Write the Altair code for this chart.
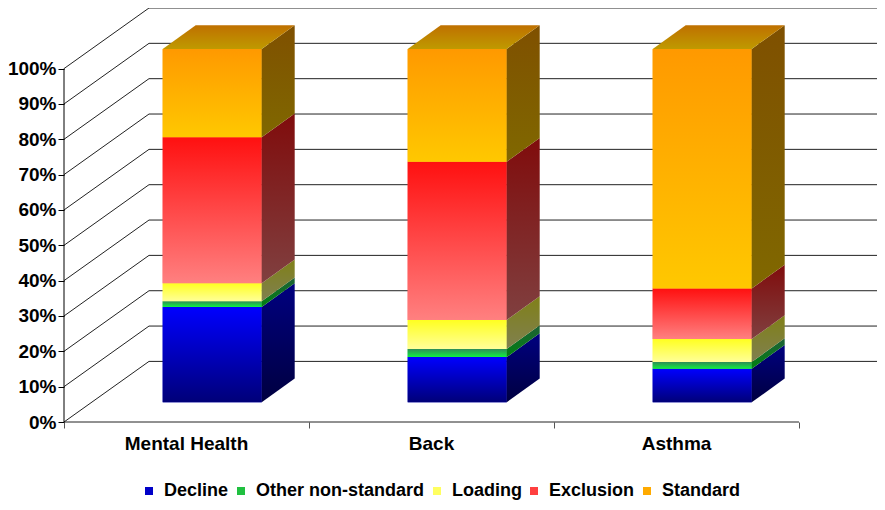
import altair as alt
import pandas as pd

# ---- data ----
CATEGORIES = ["Mental Health", "Back", "Asthma"]
SERIES = ["Decline", "Other non-standard", "Loading", "Exclusion", "Standard"]
DECLINE = [27.0, 12.8, 9.5]
OTHER = [1.6, 2.3, 1.9]
LOADING = [5.1, 8.2, 6.5]
EXCLUSION = [41.3, 44.8, 14.3]
STANDARD = [25.0, 31.9, 67.8]
Y_TICKS = [0, 10, 20, 30, 40, 50, 60, 70, 80, 90, 100]
CAT_TICKS = [0, 1, 2, 3]

VALUES = [DECLINE, OTHER, LOADING, EXCLUSION, STANDARD]

# ---- styling / geometry constants ----
FONT = "Liberation Sans"
W, H = 813, 414
PX_X = 245.0
PX_Y = 3.534
XMAX = W / PX_X
YMAX = H / PX_Y
WALL_DX = 85 / PX_X
WALL_DY = YMAX - 100
F_DX, F_DY = 25.7 / PX_X, 19.7 / PX_Y
B_DX, B_DY = 58.7 / PX_X, 43.4 / PX_Y
HALF = 49.5 / PX_X

FRONT_GRAD = {
    "Decline": ("#0000FF", "#000078"),
    "Other non-standard": ("#2E8B57", "#10F040"),
    "Loading": ("#FFFF20", "#FFFF99"),
    "Exclusion": ("#FF1010", "#FF8080"),
    "Standard": ("#FF9900", "#FFC800"),
}
SIDE_GRAD = {
    "Decline": ("#000080", "#000040"),
    "Other non-standard": ("#1E6038", "#008010"),
    "Loading": ("#808018", "#808050"),
    "Exclusion": ("#800C0C", "#804040"),
    "Standard": ("#7F5000", "#806800"),
}
TOP_GRAD = ("#BF7000", "#BF9A00")
LEGEND_COLORS = ["#0000C8", "#20C040", "#FFFF60", "#FF4040", "#FFAA00"]


def grad(c0, c1):
    return alt.LinearGradient(
        gradient="linear",
        stops=[alt.GradientStop(color=c0, offset=0), alt.GradientStop(color=c1, offset=1)],
        x1=0, x2=0, y1=0, y2=1,
    )


# ---- tables built from the arrays ----
front_rows, side_rows, top_rows = [], [], []
for i, cat in enumerate(CATEGORIES):
    cum = 0.0
    xl = i + 0.5 - HALF + F_DX
    xr = i + 0.5 + HALF + F_DX
    for s, vals in zip(SERIES, VALUES):
        c0, c1 = cum, cum + vals[i]
        cum = c1
        front_rows.append(dict(cat=cat, series=s, xl=xl, xr=xr, y0=c0 + F_DY, y1=c1 + F_DY))
        side_rows.append(dict(cat=cat, series=s, x=xr, lo=c0 + F_DY, hi=c1 + F_DY))
        side_rows.append(dict(cat=cat, series=s, x=xr + B_DX - F_DX, lo=c0 + B_DY, hi=c1 + B_DY))
    top_rows.append(dict(cat=cat, y=cum + F_DY, xa=xl, xb=xr))
    top_rows.append(dict(cat=cat, y=cum + B_DY, xa=xl + B_DX - F_DX, xb=xr + B_DX - F_DX))

front = pd.DataFrame(front_rows)
side = pd.DataFrame(side_rows)
top = pd.DataFrame(top_rows)

grid = pd.DataFrame({"v": Y_TICKS})
grid["vb"] = grid["v"] + WALL_DY
grid["x0"] = 0.0
grid["x1"] = WALL_DX
grid["xm"] = XMAX

axis_line = pd.DataFrame({"x": [0.0], "y0": [0.0], "y1": [100.0]})
floor_line = pd.DataFrame({"x0": [0.0], "x1": [float(len(CATEGORIES))], "y": [0.0]})
cat_labels = pd.DataFrame({"cat": CATEGORIES, "xc": [i + 0.5 for i in range(len(CATEGORIES))], "y": 0.0})

Xs = alt.Scale(domain=[0, XMAX], nice=False, zero=False)
Ys = alt.Scale(domain=[0, YMAX], nice=False, zero=False)

Y_AXIS = alt.Axis(values=Y_TICKS, labelExpr="datum.value + '%'", domain=False, grid=False,
                  tickSize=6, tickColor="black", labelFont=FONT, labelFontSize=19,
                  labelFontWeight="bold", labelColor="black", labelPadding=2, title=None)
X_AXIS = alt.Axis(values=CAT_TICKS, labels=False, domain=False, grid=False, tickSize=6,
                  tickColor="#555555", title=None)


def X(field):
    return alt.X(field, scale=Xs, axis=X_AXIS)


def Y(field):
    return alt.Y(field, scale=Ys, axis=Y_AXIS)


GRID_COLOR = "#222222"

side_wall = alt.Chart(grid).mark_rule(color=GRID_COLOR, strokeWidth=1).encode(
    x=X("x0:Q"), x2="x1:Q", y=Y("v:Q"), y2="vb:Q")
back_wall = alt.Chart(grid).mark_rule(color=GRID_COLOR, strokeWidth=1).encode(
    x=X("x1:Q"), x2="xm:Q", y=Y("vb:Q"))
y_axis = alt.Chart(axis_line).mark_rule(color="black", strokeWidth=1).encode(
    x=X("x:Q"), y=Y("y0:Q"), y2="y1:Q")
floor = alt.Chart(floor_line).mark_rule(color=GRID_COLOR, strokeWidth=1).encode(
    x=X("x0:Q"), x2="x1:Q", y=Y("y:Q"))
labels = alt.Chart(cat_labels).mark_text(font=FONT, fontSize=19, fontWeight="bold",
                                          color="black", baseline="alphabetic", dy=28).encode(
    x=X("xc:Q"), y=Y("y:Q"), text="cat:N")

legend_base = alt.Chart(front).mark_bar().encode(
    x=X("xl:Q"), x2="xr:Q", y=Y("y0:Q"), y2="y1:Q",
    color=alt.Color("series:N", scale=alt.Scale(domain=SERIES, range=LEGEND_COLORS),
                    legend=alt.Legend(orient="none", legendX=76, legendY=474,
                                      direction="horizontal", title=None,
                                      symbolType="square", symbolSize=64,
                                      symbolStrokeWidth=0, labelFont=FONT,
                                      labelFontSize=18, labelFontWeight="bold",
                                      labelColor="black", labelOffset=6, labelLimit=400,
                                      columnPadding=3, padding=0)))

layers = [side_wall, back_wall, floor, y_axis, legend_base]
for s in SERIES:
    layers.append(alt.Chart(front[front.series == s]).mark_bar(color=grad(*FRONT_GRAD[s])).encode(
        x=X("xl:Q"), x2="xr:Q", y=Y("y0:Q"), y2="y1:Q"))
    layers.append(alt.Chart(side[side.series == s]).mark_area(color=grad(*SIDE_GRAD[s])).encode(
        x=X("x:Q"), y=Y("lo:Q"), y2="hi:Q", detail="cat:N"))
layers.append(alt.Chart(top).mark_area(orient="horizontal", color=grad(*TOP_GRAD)).encode(
    y=Y("y:Q"), x=X("xa:Q"), x2="xb:Q", detail="cat:N"))
layers.append(labels)

chart = alt.layer(*layers).properties(
    width=W, height=H,
    autosize=alt.AutoSizeParams(type="none"),
    padding={"left": 56, "top": 0, "right": 0, "bottom": 80},
    background="white",
).configure_view(strokeWidth=0)

chart.save("out.html", embed_options={"renderer": "svg", "actions": False})
